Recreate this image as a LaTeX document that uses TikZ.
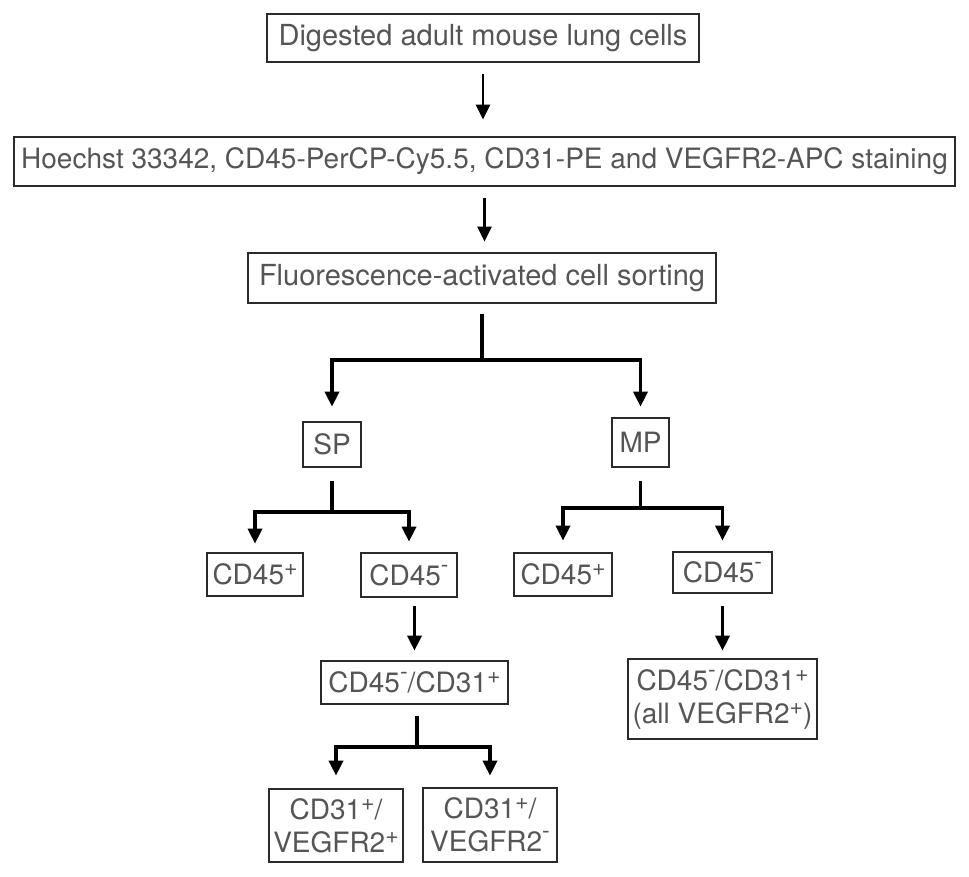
\documentclass[tikz,border=0pt]{standalone}
\usepackage{fontspec}
\setmainfont{TeX Gyre Heros}
\usetikzlibrary{arrows.meta}
\definecolor{boxtext}{HTML}{555555}
\definecolor{boxline}{HTML}{2A2A2A}
\newcommand\upplus{\raisebox{9pt}{\fontsize{23}{23}\selectfont +}}
\newcommand\upminus{\raisebox{13pt}{\fontsize{23}{23}\selectfont -}}
\tikzset{cellbox/.style={draw=boxline, line width=2.7pt, text=boxtext, inner sep=0pt, align=center, font=\fontsize{28}{33}\selectfont},
  flow/.style={black, line width=3.5pt, -{Triangle[length=15pt,width=14pt]}},
  stem/.style={black, line width=3.5pt}}

\begin{document}
\begin{tikzpicture}[x=1pt,y=-1pt]
  \useasboundingbox (0,0) rectangle (969,876);
  % steps
  \node[cellbox, minimum width=432pt, minimum height=48pt, font=\fontsize{29}{33}\selectfont] (lung) at (483,38) {Digested adult mouse lung cells};
  \node[cellbox, minimum width=941pt, minimum height=49pt] (stain) at (484.5,161.5) {Hoechst 33342, CD45-PerCP-Cy5.5, CD31-PE and VEGFR2-APC staining};
  \node[cellbox, minimum width=468pt, minimum height=50pt, font=\fontsize{29}{33}\selectfont] (sort) at (482,278) {Fluorescence-activated cell sorting};
  % populations
  \node[cellbox, minimum width=58pt, minimum height=45pt] (sp) at (332,444.5) {SP};
  \node[cellbox, minimum width=57pt, minimum height=49pt] (mp) at (640.5,442.5) {MP};
  \node[cellbox, minimum width=96pt, minimum height=43pt] (spPos) at (255,574.5) {CD45\upplus};
  \node[cellbox, minimum width=96pt, minimum height=44pt] (spNeg) at (409,575) {CD45\upminus};
  \node[cellbox, minimum width=98pt, minimum height=43pt] (mpPos) at (563,574.5) {CD45\upplus};
  \node[cellbox, minimum width=99pt, minimum height=41pt] (mpNeg) at (722.5,572.5) {CD45\upminus};
  \node[cellbox, minimum width=187pt, minimum height=43pt] (spDbl) at (414.5,682.5) {CD45\upminus/CD31\upplus};
  \node[cellbox, minimum width=189pt, minimum height=80pt] (mpDbl) at (722.5,699) {CD45\upminus/CD31\upplus\\(all VEGFR2\upplus)};
  \node[cellbox, minimum width=134pt, minimum height=73pt] (vegPos) at (336,825.5) {CD31\upplus/\\VEGFR2\upplus};
  \node[cellbox, minimum width=134pt, minimum height=74pt] (vegNeg) at (490,825) {CD31\upplus/\\VEGFR2\upminus};
  % forks
  \coordinate (sortFork) at (482,360);
  \coordinate (spFork) at (332,512);
  \coordinate (mpFork) at (640.5,508);
  \coordinate (dblFork) at (417,747);
  % top arrows
  \draw[flow, line width=2.7pt, shorten <=11pt, shorten >=16pt] (lung.south) -- (lung.south |- stain.north);
  \draw[flow, line width=2.7pt, shorten <=11pt, shorten >=10pt] (stain.south) -- (stain.south |- sort.north);
  % sorting
  \draw[stem, shorten <=10pt] (sort.south) -- (sortFork);
  \draw[flow, shorten >=14pt] (sortFork) -| (sp.north);
  \draw[flow, shorten >=10pt] (sortFork) -| (mp.north);
  % SP
  \draw[stem, shorten <=13pt] (sp.south) -- (spFork);
  \draw[flow, shorten >=8pt] (spFork) -| (spPos.north);
  \draw[flow, shorten >=10pt] (spFork) -| (spNeg.north);
  \draw[flow, shorten <=8pt, shorten >=9pt] (spDbl.north |- spNeg.south) -- (spDbl.north);
  \draw[stem, shorten <=11pt] (dblFork |- spDbl.south) -- (dblFork);
  \draw[flow, shorten >=12pt] (dblFork) -| (vegPos.north);
  \draw[flow, shorten >=11pt] (dblFork) -| (vegNeg.north);
  % MP
  \draw[stem, shorten <=13pt] (mp.south) -- (mpFork);
  \draw[flow, shorten >=11pt] (mpFork) -| (mpPos.north);
  \draw[flow, shorten >=10pt] (mpFork) -| (mpNeg.north);
  \draw[flow, shorten <=12pt, shorten >=7pt] (mpNeg.south) -- (mpDbl.north);
\end{tikzpicture}
\end{document}
